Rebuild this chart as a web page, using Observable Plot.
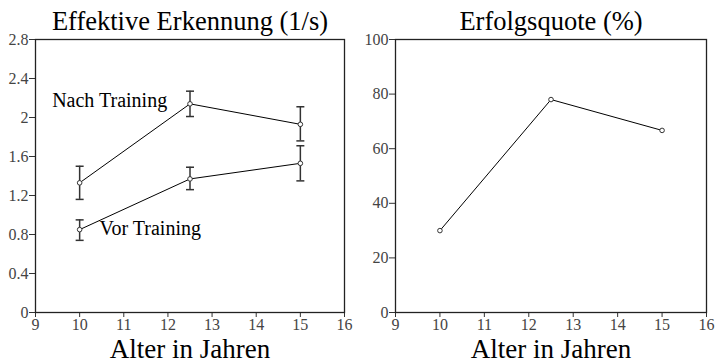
<!DOCTYPE html>
<html>
<head>
<meta charset="utf-8">
<script src="https://cdn.jsdelivr.net/npm/d3@7"></script>
<script src="https://cdn.jsdelivr.net/npm/@observablehq/plot@0.6"></script>
<style>
  body { margin: 0; background: #fff; }
  #wrap { display: flex; width: 715px; height: 362px; }
</style>
</head>
<body>
<div id="wrap"></div>
<script>
const ages = [10, 12.5, 15];
const nachMean = [1.33, 2.14, 1.93];
const nachLow  = [1.16, 2.01, 1.76];
const nachHigh = [1.50, 2.27, 2.11];
const vorMean  = [0.85, 1.37, 1.53];
const vorLow   = [0.74, 1.26, 1.35];
const vorHigh  = [0.95, 1.49, 1.71];
const quote    = [30, 78, 66.7];
const xTicks   = [9, 10, 11, 12, 13, 14, 15, 16];
const yTicks1  = [0, 0.4, 0.8, 1.2, 1.6, 2, 2.4, 2.8];
const yTicks2  = [0, 20, 40, 60, 80, 100];
const title1 = "Effektive Erkennung (1/s)";
const title2 = "Erfolgsquote (%)";
const xLabel = "Alter in Jahren";
const seriesLabels = [
  {x: 10.68, y: 2.17, text: "Nach Training"},
  {x: 11.6, y: 0.86, text: "Vor Training"}
];

const nach = ages.map((a, i) => ({x: a, y: nachMean[i], lo: nachLow[i], hi: nachHigh[i]}));
const vor = ages.map((a, i) => ({x: a, y: vorMean[i], lo: vorLow[i], hi: vorHigh[i]}));
const rate = ages.map((a, i) => ({x: a, y: quote[i]}));

// horizontal cap symbol for error bars
const cap = {
  draw(ctx, size) {
    const w = Math.sqrt(size / Math.PI);
    ctx.moveTo(-w, 0);
    ctx.lineTo(w, 0);
  }
};

const font = "Liberation Serif";
const ink = "#222";

function common(width, ml, mr, yDomain) {
  return {
    width, height: 362,
    marginLeft: ml, marginRight: mr, marginTop: 39, marginBottom: 50,
    style: {fontFamily: font, fontSize: "16px", color: "#333", background: "#fff", overflow: "visible"},
    x: {domain: [9, 16], label: null},
    y: {domain: yDomain, label: null}
  };
}

function axisMarks(yTicks) {
  return [
    Plot.axisX({ticks: xTicks, tickSize: 5, tickPadding: 1, tickFormat: d => String(d), label: null,
      fontFamily: font, fontSize: 16, fill: "#444", stroke: "#333"}),
    Plot.axisY({ticks: yTicks, tickSize: 6, tickPadding: 1, tickFormat: d => String(d), label: null,
      fontFamily: font, fontSize: 16, fill: "#444", stroke: "#333"})
  ];
}

function titleMarks(title) {
  return [
    Plot.text([title], {frameAnchor: "top", dy: -10, lineAnchor: "bottom", text: d => d, fontSize: 26.5, fontFamily: font, fill: "#000"}),
    Plot.text([xLabel], {frameAnchor: "bottom", dy: 45, lineAnchor: "bottom", text: d => d, fontSize: 27, fontFamily: font, fill: "#000"})
  ];
}

function errMarks(data) {
  return [
    Plot.ruleX(data, {x: "x", y1: "lo", y2: "hi", stroke: "#333", strokeWidth: 1.5}),
    Plot.dot(data, {x: "x", y: "lo", symbol: cap, r: 4, stroke: "#333", strokeWidth: 1.5}),
    Plot.dot(data, {x: "x", y: "hi", symbol: cap, r: 4, stroke: "#333", strokeWidth: 1.5})
  ];
}

const p1 = Plot.plot({
  ...common(355, 35, 11, [0, 2.8]),
  marks: [
    ...axisMarks(yTicks1),
    Plot.frame({stroke: ink, strokeWidth: 1.3}),
    ...errMarks(nach),
    ...errMarks(vor),
    Plot.line(nach, {x: "x", y: "y", stroke: "#000", strokeWidth: 1}),
    Plot.line(vor, {x: "x", y: "y", stroke: "#000", strokeWidth: 1}),
    Plot.dot(nach, {x: "x", y: "y", r: 2.3, stroke: "#333", fill: "#fff", strokeWidth: 1}),
    Plot.dot(vor, {x: "x", y: "y", r: 2.3, stroke: "#333", fill: "#fff", strokeWidth: 1}),
    Plot.text(seriesLabels, {x: "x", y: "y", text: "text", fontSize: 20, fontFamily: font, fill: "#000"}),
    ...titleMarks(title1)
  ]
});

const p2 = Plot.plot({
  ...common(360, 40, 9, [0, 100]),
  marks: [
    ...axisMarks(yTicks2),
    Plot.frame({stroke: ink, strokeWidth: 1.3}),
    Plot.line(rate, {x: "x", y: "y", stroke: "#000", strokeWidth: 1}),
    Plot.dot(rate, {x: "x", y: "y", r: 2.3, stroke: "#333", fill: "#fff", strokeWidth: 1}),
    ...titleMarks(title2)
  ]
});

document.getElementById("wrap").append(p1, p2);
</script>
</body>
</html>
